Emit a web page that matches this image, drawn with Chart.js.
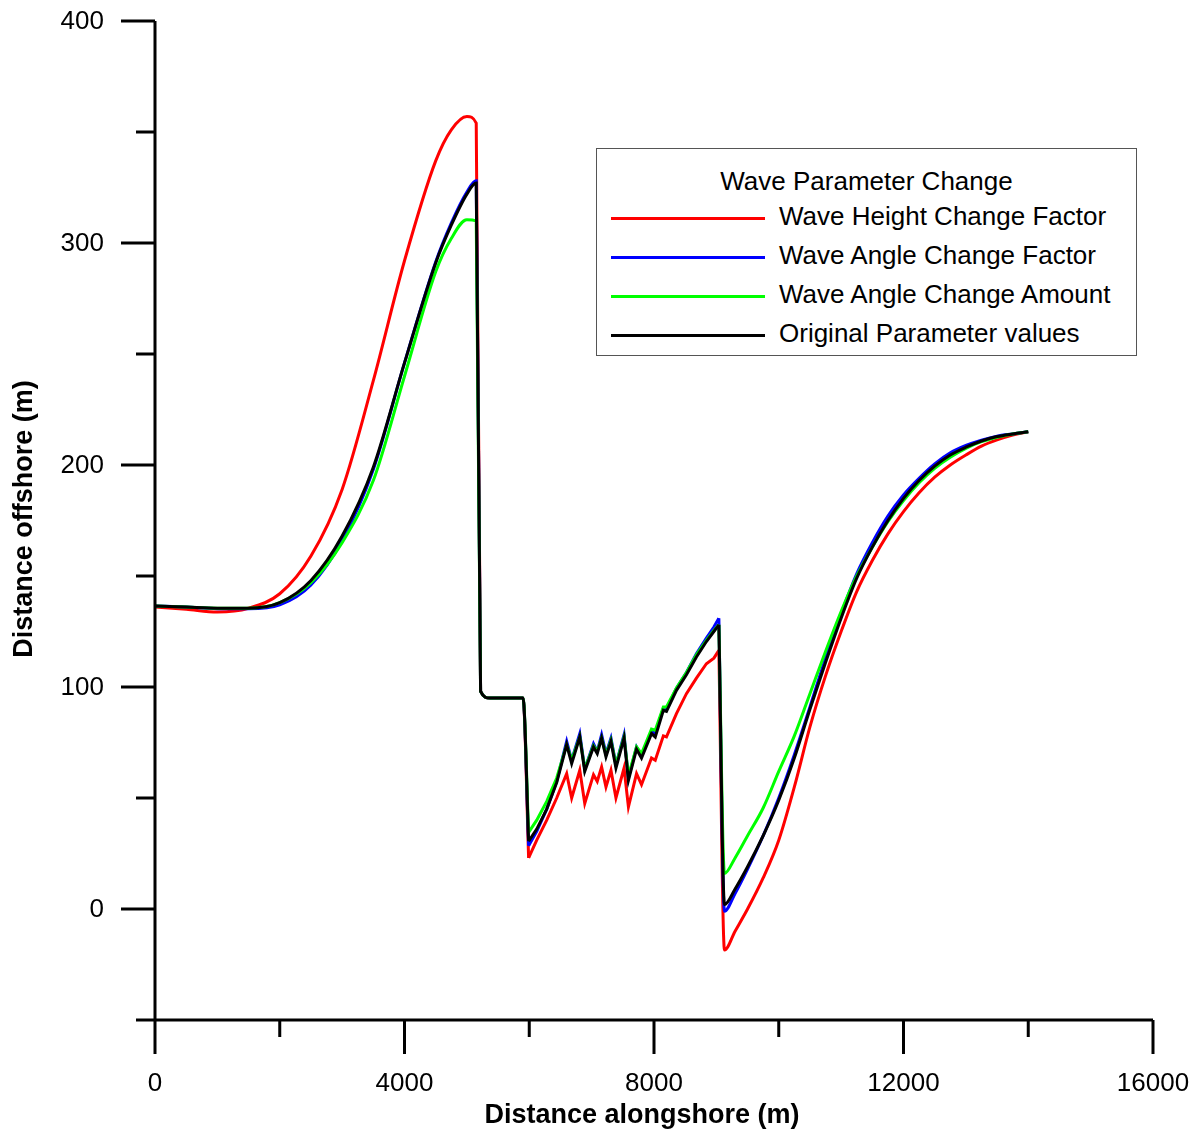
<!DOCTYPE html>
<html>
<head>
<meta charset="utf-8">
<script src="https://cdn.jsdelivr.net/npm/chart.js@4.4.1/dist/chart.umd.min.js"></script>
<style>
	html, body { margin: 0; padding: 0; background: #fff; }
	#wrap { position: relative; width: 1203px; height: 1135px; }
	#legend {
		position: absolute; left: 596px; top: 148px; width: 539px; height: 206px;
		border: 1px solid #555; background: #fff;
		font-family: "Liberation Sans", Arial, sans-serif; font-size: 26px; color: #000;
	}
	#legend .title { position: absolute; left: 0; width: 100%; top: 17px; text-align: center; line-height: 30px; }
	#legend .row { position: absolute; left: 14px; height: 30px; line-height: 30px; white-space: nowrap; }
	#legend .swatch { display: inline-block; width: 154px; height: 3px; vertical-align: middle; margin-right: 14px; }
</style>
</head>
<body>
<div id="wrap">
	<canvas id="chart" width="1203" height="1135"></canvas>
	<div id="legend"></div>
</div>
<script>
// distance alongshore (m), shared by every series
var alongshore = [0, 500, 1000, 1500, 2000, 2500, 3000, 3500, 4000, 4500, 4750, 5000, 5150,
	5220, 5370, 5900, 5990, 6120, 6280, 6440, 6600, 6680, 6810, 6890, 7030, 7090, 7160, 7230,
	7310, 7390, 7520, 7590, 7720, 7800, 7960, 8020, 8150, 8200, 8360, 8520, 8680, 8840, 8960,
	9040, 9130, 9300, 9500, 9750, 10000, 10250, 10500, 10750, 11000, 11250, 11500, 11750,
	12000, 12250, 12500, 12750, 13000, 13250, 13500, 13750, 14000];

// jagged stretch (drawn with straight segments)
var jaggedFrom = 5990;
var jaggedTo = 9040;

// distance offshore (m) for each run
var heightFactor = [136, 135, 133.8, 135.5, 142, 159, 189, 238, 292, 337, 351, 357, 354,
	98, 95, 95, 23, 31, 40, 50, 61, 50, 62.5, 47.5, 60.5, 57.5, 64, 55,
	62.5, 50, 63.5, 46, 61, 56, 68, 67, 78, 77.5, 88, 97, 104, 110.5, 113,
	116.5, -18.5, -10, 0, 14, 31, 55, 82, 105, 125, 143, 157, 169,
	179, 187.5, 194.5, 200, 204.5, 208.5, 211.3, 213.5, 215];

var angleFactor = [136.5, 136, 135.3, 135.2, 137, 146, 166, 198, 246, 291.5, 309, 323, 328,
	98, 95, 95, 28.5, 35, 45, 57.5, 75.5, 67, 79, 63, 74.5, 71, 78.5, 70,
	77, 65, 78.5, 59, 73, 69, 80, 79, 90.5, 90, 99.5, 106.5, 115, 122, 127,
	131, -1, 7, 18, 33, 50, 69.5, 91, 113, 133, 151, 165, 177,
	186.5, 194, 200.5, 205.5, 208.8, 211.2, 213, 214, 215];

var angleAmount = [136.5, 136, 135.5, 135.5, 138, 147, 165, 193, 240, 287, 302, 310.5, 310,
	98, 95, 95, 34.5, 40, 48.5, 59, 74, 67, 77.5, 63, 73.5, 71, 77, 69.5,
	76, 65, 77.5, 60, 73, 70, 81, 80.5, 91, 91, 99.5, 106.5, 114.5, 121, 125.5,
	128, 16, 23, 33, 45.5, 62, 78, 97, 116, 134, 150, 163, 174.5,
	184, 192, 198.5, 203.5, 207.5, 210.5, 212.5, 214, 215];

var original = [136.5, 136, 135.5, 135.5, 138, 148, 168, 199, 246, 291, 308, 322, 327,
	98, 95, 95, 30.5, 36, 45, 57, 74, 65.5, 77.5, 62, 73, 70, 77, 68.5,
	75.5, 63.5, 77, 58, 72, 68, 79, 77.5, 89.5, 89, 98.5, 105.5, 113.5, 120.5, 125,
	128, 2, 9, 19, 33, 49, 68, 90, 111, 131, 149, 163, 175,
	185, 193, 199.5, 204.5, 208, 210.8, 212.8, 214, 215];

var xTicks = [0, 2000, 4000, 6000, 8000, 10000, 12000, 14000, 16000];
var yTicks = [-50, 0, 50, 100, 150, 200, 250, 300, 350, 400];

var seriesNames = ['Wave Height Change Factor', 'Wave Angle Change Factor', 'Wave Angle Change Amount', 'Original Parameter values'];
var seriesColors = ['#ff0000', '#0000ff', '#00ff00', '#000000'];
var seriesValues = [heightFactor, angleFactor, angleAmount, original];

var FONT = '"Liberation Sans", Arial, sans-serif';

// smooth part: everything outside the jagged stretch (gap inside it)
let smoothPoints = function(values) {
	var pts = [];
	for (var i = 0; i < alongshore.length; i++) {
		var xv = alongshore[i];
		var inside = xv > jaggedFrom && xv < jaggedTo;
		pts.push({ x: xv, y: inside ? null : values[i] });
	}
	return pts;
};

// jagged part: straight segments between readings
let jaggedPoints = function(values) {
	var pts = [];
	for (var i = 0; i < alongshore.length; i++) {
		if (alongshore[i] >= jaggedFrom && alongshore[i] <= jaggedTo) {
			pts.push({ x: alongshore[i], y: values[i] });
		}
	}
	return pts;
};

// axis lines, major/minor ticks, tick labels and axis titles
var axesPlugin = {
	id: 'axesPlugin',
	afterDraw: function(chart) {
		var ctx = chart.ctx;
		var xs = chart.scales.x, ys = chart.scales.y;
		var left = xs.getPixelForValue(0), right = xs.getPixelForValue(16000);
		var bottom = ys.getPixelForValue(-50), top = ys.getPixelForValue(400);
		ctx.save();
		ctx.strokeStyle = '#000';
		ctx.lineWidth = 3;
		ctx.beginPath();
		ctx.moveTo(left, bottom); ctx.lineTo(left, top);
		ctx.moveTo(left, bottom); ctx.lineTo(right, bottom);
		yTicks.forEach(function(v) {
			var p = ys.getPixelForValue(v);
			var len = (v % 100 === 0) ? 34 : 19;
			ctx.moveTo(left, p); ctx.lineTo(left - len, p);
		});
		xTicks.forEach(function(v) {
			var p = xs.getPixelForValue(v);
			var len = (v % 4000 === 0) ? 34 : 17;
			ctx.moveTo(p, bottom); ctx.lineTo(p, bottom + len);
		});
		ctx.stroke();

		ctx.fillStyle = '#000';
		ctx.font = '26px ' + FONT;
		ctx.textBaseline = 'middle';
		ctx.textAlign = 'right';
		yTicks.forEach(function(v) {
			if (v % 100 === 0) ctx.fillText(String(v), left - 51, ys.getPixelForValue(v) + 1);
		});
		ctx.textAlign = 'center';
		xTicks.forEach(function(v) {
			if (v % 4000 === 0) ctx.fillText(String(v), xs.getPixelForValue(v), bottom + 64);
		});

		ctx.font = 'bold 27px ' + FONT;
		ctx.fillText('Distance alongshore (m)', 642, 1116);
		ctx.translate(25, 519);
		ctx.rotate(-Math.PI / 2);
		ctx.fillText('Distance offshore (m)', 0, 0);
		ctx.restore();
	}
};

var datasets = [];
for (var i = 0; i < seriesNames.length; i++) {
	var common = {
		borderColor: seriesColors[i],
		backgroundColor: seriesColors[i],
		borderWidth: 3,
		pointRadius: 0,
		fill: false,
		spanGaps: false,
		order: seriesNames.length - 1 - i
	};
	datasets.push(Object.assign({ label: seriesNames[i], data: smoothPoints(seriesValues[i]), cubicInterpolationMode: 'monotone' }, common));
	datasets.push(Object.assign({ label: seriesNames[i] + ' (jagged)', data: jaggedPoints(seriesValues[i]), tension: 0 }, common));
}

new Chart(document.getElementById('chart'), {
	type: 'line',
	data: { datasets: datasets },
	plugins: [axesPlugin],
	options: {
		responsive: false,
		animation: false,
		layout: { padding: { top: 21, right: 50, left: 0, bottom: 0 } },
		plugins: { legend: { display: false }, tooltip: { enabled: false } },
		scales: {
			x: {
				type: 'linear', min: 0, max: 16000,
				afterFit: function(scale) { scale.height = 115; },
				border: { display: false },
				grid: { display: false },
				ticks: { display: false }
			},
			y: {
				type: 'linear', min: -50, max: 400,
				afterFit: function(scale) { scale.width = 155; },
				border: { display: false },
				grid: { display: false },
				ticks: { display: false }
			}
		}
	}
});

// legend box
var legend = document.getElementById('legend');
var html = '<div class="title">Wave Parameter Change</div>';
for (var j = 0; j < seriesNames.length; j++) {
	html += '<div class="row" style="top:' + (52 + j * 39) + 'px"><span class="swatch" style="background:' +
		seriesColors[j] + '"></span>' + seriesNames[j] + '</div>';
}
legend.innerHTML = html;
</script>
</body>
</html>
